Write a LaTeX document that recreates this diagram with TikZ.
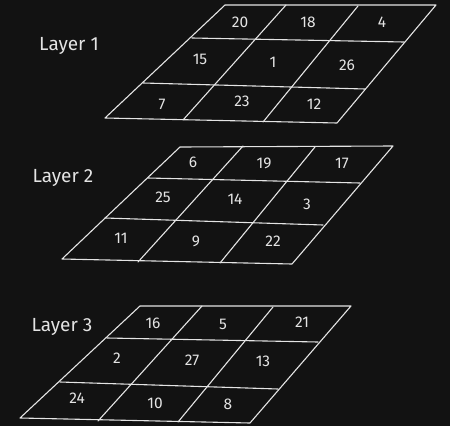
\documentclass[tikz,border=0pt]{standalone}
\usepackage{fontspec}
\setmainfont{Fira Sans}
\definecolor{bg}{HTML}{121212}
\definecolor{chalk}{HTML}{E4E4E4}
\tikzset{
  gridline/.style={draw=chalk, line width=1.1pt, line cap=round, line join=round},
  cell/.style={text=chalk, inner sep=0pt, font=\fontsize{15.5}{15.5}\selectfont},
  layerlabel/.style={text=chalk, inner sep=0pt, font=\fontsize{19}{19}\selectfont}
}
\begin{document}
\begin{tikzpicture}[x=1pt,y=-1pt]
\fill[bg] (0,0) rectangle (450,426);
\useasboundingbox (0,0) rectangle (450,426);
% layer 1
\node[layerlabel] (lab1) at (69,46) {Layer 1};
\draw[gridline] (225,5) -- (436,5) -- (337,123) -- (105,118) -- cycle;
\draw[gridline] (192,38) -- (404,42);
\draw[gridline] (143,83) -- (365,89);
\draw[gridline] (286,5) -- (183,120);
\draw[gridline] (358,6) -- (263,122);
\node[cell] (a20) at (240,22) {20};
\node[cell] (a18) at (308,22) {18};
\node[cell] (a4) at (382,22) {4};
\node[cell] (a15) at (200,59) {15};
\node[cell] (a1) at (273,62) {1};
\node[cell] (a26) at (347,65) {26};
\node[cell] (a7) at (162,104) {7};
\node[cell] (a23) at (242,101) {23};
\node[cell] (a12) at (314,104) {12};
% layer 2
\node[layerlabel] (lab2) at (63,178) {Layer 2};
\draw[gridline] (180,147) -- (393,146) -- (292,264) -- (62,259) -- cycle;
\draw[gridline] (148,178) -- (360,183);
\draw[gridline] (105,218) -- (323,225);
\draw[gridline] (243,146) -- (138,262);
\draw[gridline] (315,147) -- (220,263);
\node[cell] (b6) at (193,162) {6};
\node[cell] (b19) at (264,163) {19};
\node[cell] (b17) at (342,163) {17};
\node[cell] (b25) at (163,197) {25};
\node[cell] (b14) at (235,199) {14};
\node[cell] (b3) at (307,204) {3};
\node[cell] (b11) at (121,238) {11};
\node[cell] (b9) at (196,241) {9};
\node[cell] (b22) at (273,241) {22};
% layer 3
\node[layerlabel] (lab3) at (62,327) {Layer 3};
\draw[gridline] (140,306) -- (351,306) -- (250,423) -- (20,418) -- cycle;
\draw[gridline] (107,338) -- (318,342);
\draw[gridline] (60,382) -- (278,389);
\draw[gridline] (202,306) -- (98,421);
\draw[gridline] (273,307) -- (178,422);
\node[cell] (c16) at (153,323) {16};
\node[cell] (c5) at (223,324) {5};
\node[cell] (c21) at (302,322) {21};
\node[cell] (c2) at (117,358) {2};
\node[cell] (c27) at (192,360) {27};
\node[cell] (c13) at (263,361) {13};
\node[cell] (c24) at (77,398) {24};
\node[cell] (c10) at (155,403) {10};
\node[cell] (c8) at (228,404) {8};
\end{tikzpicture}
\end{document}
